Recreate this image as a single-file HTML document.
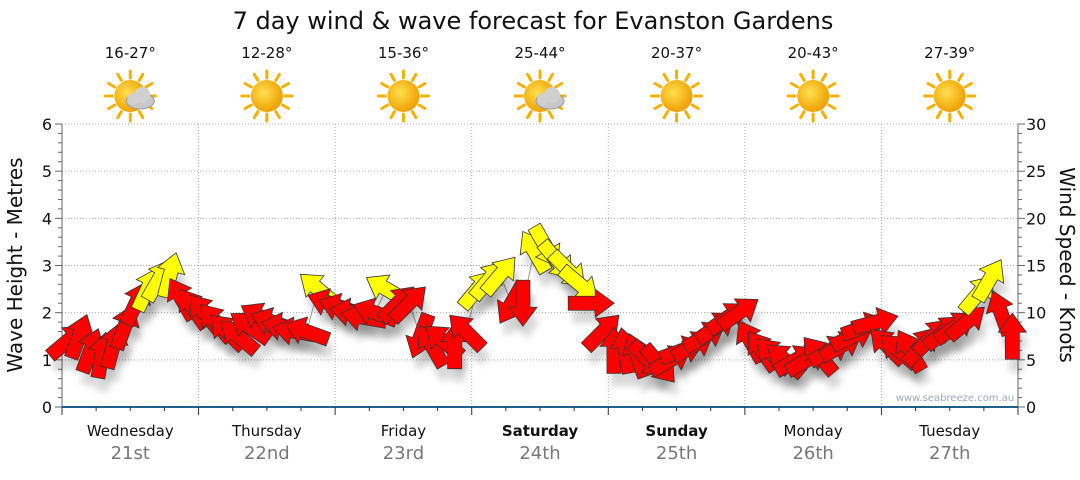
<!DOCTYPE html>
<html><head><meta charset="utf-8"><style>
body{margin:0;background:#fff;font-family:"Liberation Sans",sans-serif}
svg text{font-family:"DejaVu Sans","Liberation Sans",sans-serif}
</style></head><body>
<svg id="c" width="1080" height="475" viewBox="0 0 1080 475">
<defs>
<filter id="sh" x="-50%" y="-50%" width="200%" height="200%"><feGaussianBlur stdDeviation="3.5"/></filter>
<radialGradient id="sun" cx="40%" cy="40%" r="60%"><stop offset="0" stop-color="#ffe050"/><stop offset="1" stop-color="#f0a000"/></radialGradient>
</defs>
<text x="533" y="29" font-size="24" text-anchor="middle" fill="#111">7 day wind &amp; wave forecast for Evanston Gardens</text>
<g id="hdr"></g>
<g id="grid"></g>
<g id="axes"></g>
<text x="955" y="401" font-size="10" fill="#9ab" text-anchor="middle">www.seabreeze.com.au</text>
<text transform="translate(22,265) rotate(-90)" font-size="20" text-anchor="middle" fill="#111">Wave Height - Metres</text>
<text transform="translate(1060,265) rotate(90)" font-size="20" text-anchor="middle" fill="#111">Wind Speed - Knots</text>
<g id="marks"></g>
</svg>
<script>
const days=["Wednesday","Thursday","Friday","Saturday","Sunday","Monday","Tuesday"];
const dates=["21st","22nd","23rd","24th","25th","26th","27th"];
const temps=["16-27°","12-28°","15-36°","25-44°","20-37°","20-43°","27-39°"];
const cloudy=[1,0,0,1,0,0,0];
const leftTicks=[0,1,2,3,4,5,6];
const rightTicks=[0,5,10,15,20,25,30];
const speeds=[
 7,7.5,6,5.5,6.5,8.5,11,12.5,13.5,14,11.5,10.5,
 10,9,8,7.5,8.5,9.5,9,8.5,8,8,12.5,11,
 10.5,10,9.5,10,12.5,11,11,7.5,6.5,7,6.5,8,
 12.5,13.5,14,11,11,16.5,17,15.5,14.5,13,11,8,
 6,6,5.5,5,4.5,5,6,6.5,7.5,8.5,9.5,10,
 7,6,5.5,5,5,5,5.5,6,6.5,7.5,8.5,9,
 6.5,6,6,6.5,7.5,8,8.5,9,12,13.5,10,7.5];
const dirs=[
 50,20,20,10,15,20,25,25,30,15,-30,-35,
 -40,-40,-45,-50,-55,-60,-70,-80,-80,-70,-50,-70,
 -70,-80,-80,-70,-60,45,45,200,-30,-50,0,-45,
 40,40,40,210,180,-30,150,140,135,130,90,45,
 0,-10,-20,135,140,60,70,60,60,55,55,55,
 -30,-35,-45,-50,60,60,-40,60,60,65,70,75,
 -45,-50,-30,40,45,50,55,50,40,30,-20,0];
const NS="http://www.w3.org/2000/svg";
const X0=62,X1=1018,Y0=407,Y1=124;
const dayW=(X1-X0)/7;
const yM=m=>Y0-(m/6)*(Y0-Y1);
const yK=k=>Y0-(k/30)*(Y0-Y1);
const xI=i=>X0+(i+0.5)*(X1-X0)/speeds.length;
function mk(t,a,p){const e=document.createElementNS(NS,t);for(const k in a)e.setAttribute(k,a[k]);(p||document.getElementById('c')).appendChild(e);return e;}
const hdr=document.getElementById('hdr'),grid=document.getElementById('grid'),axes=document.getElementById('axes'),marks=document.getElementById('marks');
days.forEach((d,i)=>{
 const cx=X0+(i+0.5)*dayW;
 const t=mk('text',{x:cx,y:58,'font-size':15,'text-anchor':'middle',fill:'#111'},hdr);t.textContent=temps[i];
 
 
 const g=mk('g',{},hdr);
 
 
 for(let r=0;r<12;r++){const a=r*Math.PI/6;mk('line',{x1:cx+Math.cos(a)*18,y1:96+Math.sin(a)*18,x2:cx+Math.cos(a)*25,y2:96+Math.sin(a)*25,stroke:'#f5b000','stroke-width':3,'stroke-linecap':'round'},g);}
 mk('circle',{cx:cx,cy:96,r:16,fill:'url(#sun)'},g);
 if(cloudy[i]){mk('ellipse',{cx:cx+10,cy:101,rx:14,ry:8,fill:'#c8c8c8',stroke:'#999'},g);mk('circle',{cx:cx+12,cy:95,r:8,fill:'#d0d0d0'},g);mk('circle',{cx:cx+3,cy:99,r:6,fill:'#d0d0d0'},g);}
 const dl=mk('text',{x:cx,y:436,'font-size':15,'text-anchor':'middle',fill:'#111','font-weight':(i==3||i==4)?'bold':'normal'},axes);dl.textContent=d;
 
 
 const dt=mk('text',{x:cx,y:459,'font-size':18,'text-anchor':'middle',fill:'#777'},axes);dt.textContent=dates[i];
 
 
 if(i>0){const gl=mk('line',{x1:X0+i*dayW,y1:Y1,x2:X0+i*dayW,y2:Y0,stroke:'#aaa','stroke-dasharray':'1,2'},grid);
 
 }
});
leftTicks.forEach(v=>{
 const y=yM(v);
 if(v>0){const gl=mk('line',{x1:X0,y1:y,x2:X1,y2:y,stroke:'#aaa','stroke-dasharray':'1,2'},grid);
 
 }
 const t=mk('text',{x:52,y:y+6,'font-size':16,'text-anchor':'end',fill:'#111'},axes);t.textContent=v;
 
 
});
for(let m=0;m<=30;m++){const y=yM(m/5);mk('line',{x1:X0-(m%5?4:7),y1:y,x2:X0,y2:y,stroke:'#666'},axes);mk('line',{x1:X1,y1:y,x2:X1+(m%5?4:7),y2:y,stroke:'#666'},axes);}
rightTicks.forEach(v=>{
 const t=mk('text',{x:1026,y:yK(v)+6,'font-size':16,fill:'#111'},axes);t.textContent=v;
 
 
});
mk('line',{x1:X0,y1:Y1,x2:X0,y2:Y0,stroke:'#666'},axes);
mk('line',{x1:X1,y1:Y1,x2:X1,y2:Y0,stroke:'#666'},axes);
mk('line',{x1:X0,y1:Y0,x2:X1,y2:Y0,stroke:'#1f5f8b','stroke-width':2},axes);
for(let i=0;i<=28;i++){const x=X0+i*dayW/4;mk('line',{x1:x,y1:Y0,x2:x,y2:Y0+(i%4?4:8),stroke:'#333'},axes);}
const AR="M0,-23 L14,-4 L7,-4 L7,23 L-7,23 L-7,-4 L-14,-4 Z";
let pts=speeds.map((s,i)=>xI(i)+','+yK(s)).join(' ');
mk('polyline',{points:pts,fill:'none',stroke:'#999','stroke-width':1},marks);
speeds.forEach((s,i)=>{
 const x=xI(i),y=yK(s);
 const sh=mk('path',{d:AR,transform:`translate(${x+4},${y+13}) rotate(${dirs[i]})`,fill:'#000',opacity:0.15,filter:'url(#sh)'},marks);
 
 
});
speeds.forEach((s,i)=>{
 const x=xI(i),y=yK(s);
 const a=mk('path',{d:AR,transform:`translate(${x},${y}) rotate(${dirs[i]})`,fill:s>=12?'#ffff00':'#ff0000',stroke:'#333','stroke-width':0.8},marks);
 
 
});
</script>
</body></html>
